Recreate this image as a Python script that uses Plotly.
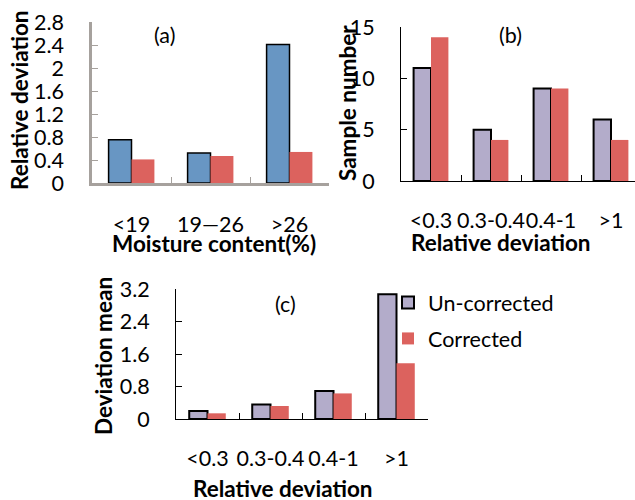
import plotly.graph_objects as go

W, H = 635, 500

# Panel (a)
cats_a = ["<19", "19\u201426", ">26"]
vals_a_unc = [0.75, 0.52, 2.41]
vals_a_cor = [0.41, 0.47, 0.54]

# Panel (b)
cats_b = ["<0.3", "0.3-0.4", "0.4-1", ">1"]
vals_b_unc = [11, 5, 9, 6]
vals_b_cor = [14, 4, 9, 4]

# Panel (c)
cats_c = ["<0.3", "0.3-0.4", "0.4-1", ">1"]
vals_c_unc = [0.20, 0.36, 0.69, 3.07]
vals_c_cor = [0.14, 0.32, 0.63, 1.37]

BLUE = "#6896c3"
RED = "#dc625e"
PURPLE = "#b3acca"
FONT = "Lato"
FS = 21.5
FT = 22.5

fig = go.Figure()

fig.add_trace(go.Bar(x=cats_a, y=vals_a_unc, marker=dict(color=BLUE, line=dict(color="black", width=1.5)),
                     xaxis="x", yaxis="y", showlegend=False))
fig.add_trace(go.Bar(x=cats_a, y=vals_a_cor, marker=dict(color=RED, line=dict(width=0)),
                     xaxis="x", yaxis="y", showlegend=False))

fig.add_trace(go.Bar(x=cats_b, y=vals_b_unc, marker=dict(color=PURPLE, line=dict(color="black", width=2)),
                     xaxis="x2", yaxis="y2", showlegend=False))
fig.add_trace(go.Bar(x=cats_b, y=vals_b_cor, marker=dict(color=RED, line=dict(width=0)),
                     xaxis="x2", yaxis="y2", showlegend=False))

fig.add_trace(go.Bar(x=cats_c, y=vals_c_unc, name="Un-corrected", legendgroup="u",
                     marker=dict(color=PURPLE, line=dict(color="black", width=2)),
                     xaxis="x3", yaxis="y3"))
fig.add_trace(go.Bar(x=cats_c, y=vals_c_cor, name="Corrected", legendgroup="c",
                     marker=dict(color=RED, line=dict(width=0)),
                     xaxis="x3", yaxis="y3"))

def px_x(p):
    return p / W

def px_y(p):
    return (H - p) / H

tickfont = dict(family=FONT, size=FS, color="black")

def xaxis(dom, anchor, color, lw, rng=None):
    d = dict(domain=dom, anchor=anchor, type="category", showline=True, linecolor=color, linewidth=lw,
             ticks="inside", tickson="boundaries", ticklen=6, tickcolor=color, tickwidth=1,
             tickangle=0, automargin=False,
             tickfont=tickfont, ticklabelstandoff=20, showgrid=False, zeroline=False, fixedrange=True)
    if rng is not None:
        d["range"] = rng
    return d

def yaxis(dom, anchor, color, lw, rng, dt):
    return dict(domain=dom, anchor=anchor, range=rng, dtick=dt, showline=True, linecolor=color, linewidth=lw,
                ticks="inside", ticklen=6, tickcolor=color, tickwidth=1, tickfont=tickfont, automargin=False,
                ticklabelstandoff=21, showgrid=False, zeroline=False, fixedrange=True)

GRAY = "#a6a19d"
fig.update_layout(
    width=W, height=H, margin=dict(l=0, r=0, t=0, b=0, autoexpand=False),
    paper_bgcolor="white", plot_bgcolor="white",
    barmode="group", bargap=0.42, bargroupgap=0,
    font=dict(family=FONT, size=FS, color="black"),
    xaxis=xaxis([px_x(92), px_x(329)], "y", GRAY, 2.5),
    yaxis=yaxis([px_y(183), px_y(22)], "x", GRAY, 2.5, [0, 2.8], 0.4),
    xaxis2=xaxis([px_x(401), 1.0], "y2", "black", 1, [-0.5, 3.4]),
    yaxis2=yaxis([px_y(181), px_y(27)], "x2", "black", 1, [0, 15], 5),
    xaxis3=xaxis([px_x(176), px_x(428)], "y3", "black", 1),
    yaxis3=yaxis([px_y(419), px_y(289)], "x3", "black", 1, [0, 3.2], 0.8),
    legend=dict(x=px_x(388), y=px_y(282), xanchor="left", yanchor="top", font=dict(family=FONT, size=FS),
                traceorder="grouped", tracegroupgap=5, itemwidth=30, bgcolor="rgba(0,0,0,0)"),
)

def ann(text, x, y, bold=False, angle=0, size=FS):
    fig.add_annotation(text=f"<b>{text}</b>" if bold else text, x=px_x(x), y=px_y(y), xref="paper", yref="paper",
                       showarrow=False, textangle=angle, font=dict(family=FONT, size=size, color="black"),
                       xanchor="center", yanchor="middle")

ann("(a)", 164, 35)
ann("(b)", 510, 35)
ann("(c)", 285, 304)
ann("Relative deviation", 20, 100, bold=True, angle=-90, size=FT)
ann("Moisture content(%)", 214, 243, bold=True, size=FT)
ann("Sample number", 348, 103, bold=True, angle=-90, size=FT)
ann("Relative deviation", 501, 242, bold=True, size=FT)
ann("Deviation mean", 103, 356, bold=True, angle=-90, size=FT)
ann("Relative deviation", 283, 488, bold=True, size=FT)

fig.write_html("out.html", config={"displayModeBar": False},
               post_script="document.body.style.margin='0';document.body.style.overflow='hidden';")
